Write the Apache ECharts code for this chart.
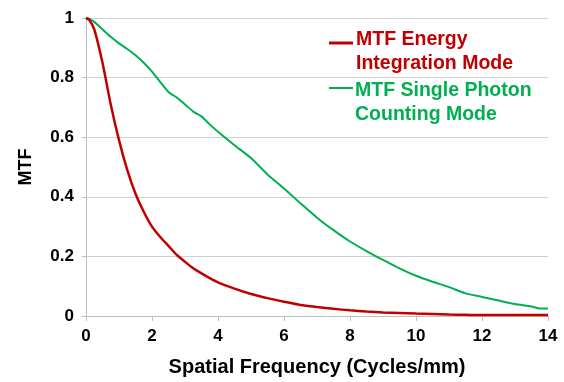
<!DOCTYPE html>
<html><head><meta charset="utf-8">
<script src="https://cdn.jsdelivr.net/npm/echarts@6/dist/echarts.min.js"></script>
<style>html,body{margin:0;padding:0;background:#fff}#c{width:564px;height:382px}</style>
</head><body><div id="c"></div>
<script>
var freq  = [0,0.1,0.25,0.5,0.75,1,1.25,1.5,1.75,2,2.25,2.5,2.75,3,3.25,3.5,3.75,4,4.5,5,5.5,6,6.5,7,7.5,8,8.5,9,9.5,10,10.5,11,11.5,12,12.5,13,13.5,13.75,14];
var mtfEnergy = [1,0.993,0.962,0.85,0.71,0.59,0.49,0.41,0.35,0.30,0.265,0.235,0.205,0.182,0.16,0.143,0.127,0.113,0.092,0.074,0.06,0.048,0.037,0.03,0.024,0.019,0.015,0.012,0.01,0.008,0.007,0.005,0.004,0.003,0.003,0.003,0.003,0.003,0.003];
var mtfPhoton = [1,0.997,0.987,0.962,0.937,0.915,0.896,0.875,0.85,0.82,0.785,0.752,0.733,0.71,0.686,0.67,0.643,0.618,0.573,0.53,0.475,0.428,0.378,0.33,0.288,0.25,0.218,0.188,0.16,0.135,0.115,0.097,0.076,0.064,0.052,0.04,0.032,0.025,0.025];
var legendEnergy = 'MTF Energy\nIntegration Mode';
var legendPhoton = 'MTF Single Photon\nCounting Mode';
var xTitle = 'Spatial Frequency (Cycles/mm)';
var yTitle = 'MTF';

function pairs(xs, ys){ return xs.map(function(x,i){return [x, ys[i]];}); }
var red = '#C00000', green = '#00B050';
var font = 'Liberation Sans, Arial, sans-serif';
var chart = echarts.init(document.getElementById('c'));
chart.setOption({
  animation:false,
  grid:{left:86,right:16,top:18,bottom:60,containLabel:false},
  xAxis:{type:'value',min:0,max:14,interval:2,
    name:xTitle,nameLocation:'middle',nameGap:41,
    nameTextStyle:{fontFamily:font,fontWeight:'bold',fontSize:20,color:'#000'},
    axisLine:{show:true,lineStyle:{color:'#bfbfbf',width:1}},
    axisTick:{show:true,length:5,lineStyle:{color:'#bfbfbf'}},
    axisLabel:{fontFamily:font,fontWeight:'bold',fontSize:17,color:'#000',margin:12},
    splitLine:{show:false}},
  yAxis:{type:'value',min:0,max:1,interval:0.2,
    name:yTitle,nameLocation:'middle',nameGap:51,
    nameTextStyle:{fontFamily:font,fontWeight:'bold',fontSize:18,color:'#000'},
    axisLine:{show:true,lineStyle:{color:'#bfbfbf',width:1}},
    axisTick:{show:true,length:4,lineStyle:{color:'#bfbfbf'}},
    axisLabel:{fontFamily:font,fontWeight:'bold',fontSize:17,color:'#000',margin:12,
      formatter:function(v){return String(Math.round(v*10)/10);}},
    splitLine:{show:true,lineStyle:{color:'#d0d0d0',width:1}}},
  series:[
    {type:'line',name:'energy',data:pairs(freq,mtfEnergy),smooth:0.25,showSymbol:false,
      lineStyle:{color:red,width:2.5},z:3},
    {type:'line',name:'photon',data:pairs(freq,mtfPhoton),smooth:0.2,showSymbol:false,
      lineStyle:{color:green,width:2},z:2}
  ],
  graphic:[
    {type:'line',shape:{x1:329,y1:43,x2:353,y2:43},style:{stroke:red,lineWidth:3}},
    {type:'text',left:356,top:28,style:{text:legendEnergy,fill:red,font:'bold 19.5px '+font,lineHeight:24}},
    {type:'line',shape:{x1:329,y1:88,x2:353,y2:88},style:{stroke:green,lineWidth:2}},
    {type:'text',left:355,top:79,style:{text:legendPhoton,fill:green,font:'bold 19.5px '+font,lineHeight:24}}
  ]
});
</script></body></html>
